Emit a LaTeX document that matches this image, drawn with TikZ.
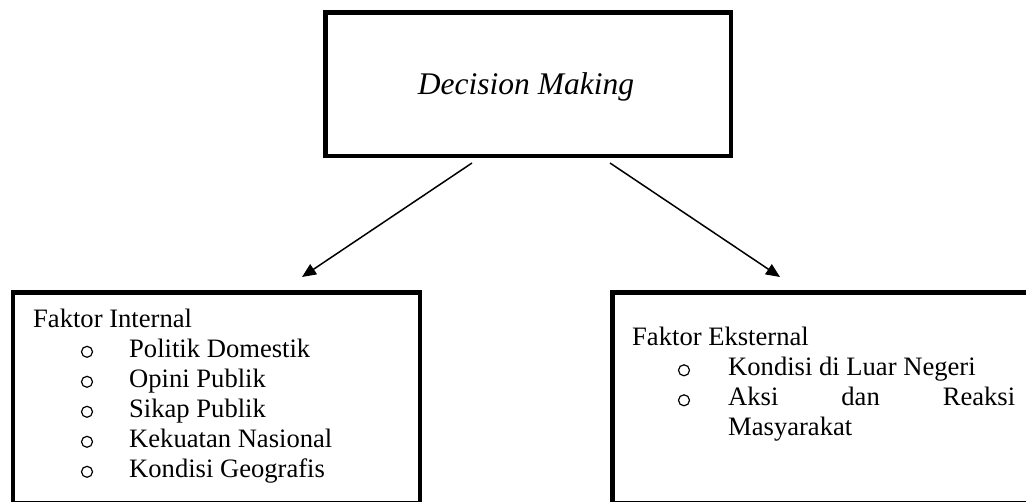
\documentclass[tikz,border=0pt]{standalone}
\usepackage{fontspec}
\setmainfont{Liberation Serif}
\usetikzlibrary{arrows.meta}
\begin{document}
\begin{tikzpicture}[x=1pt,y=-1pt,
  box/.style={draw, line width=4.5pt, inner sep=0pt, anchor=north west},
  lbl/.style={anchor=base west, inner sep=0pt, font=\fontsize{26.6}{30}\selectfont},
  bul/.style={circle, draw, line width=1.2pt, inner sep=0pt, minimum size=11pt},
  arr/.style={line width=1.5pt, -{Triangle[length=14pt,width=12pt]}}]
\useasboundingbox (0,0) rectangle (1026,502);
% top box
\node[box, minimum width=405.5pt, minimum height=143.5pt] (dm) at (323,10.5) {};
\node[anchor=base, inner sep=0pt, font=\fontsize{31.5}{36}\selectfont\itshape] (dmt) at (526,95) {Decision Making};
% bottom boxes
\node[box, minimum width=407pt, minimum height=210.5pt] (int) at (10.5,290.5) {};
\node[box, minimum width=430pt, minimum height=210.5pt] (ext) at (610,290.5) {};
% internal factors
\node[lbl] (i0) at (33,327.5) {Faktor Internal};
\node[bul] (ib1) at (87,351.8) {}; \node[lbl] (i1) at (129,357.5) {Politik Domestik};
\node[bul] (ib2) at (87,381.8) {}; \node[lbl] (i2) at (129,387.5) {Opini Publik};
\node[bul] (ib3) at (87,411.8) {}; \node[lbl] (i3) at (129,417.5) {Sikap Publik};
\node[bul] (ib4) at (87,441.8) {}; \node[lbl] (i4) at (129,447.5) {Kekuatan Nasional};
\node[bul] (ib5) at (87,471.8) {}; \node[lbl] (i5) at (129,477.5) {Kondisi Geografis};
% external factors
\node[lbl] (e0) at (632,346) {Faktor Eksternal};
\node[bul] (eb1) at (684,370.3) {}; \node[lbl] (e1) at (728,376) {Kondisi di Luar Negeri};
\node[bul] (eb2) at (684,400.3) {}; \node[lbl] (e2) at (728,406) {\hbox to 287pt{Aksi\hfill dan\hfill Reaksi}};
\node[lbl] (e3) at (728,436) {Masyarakat};
% arrows
\coordinate (la) at (472,163); \coordinate (lb) at (302,277);
\coordinate (ra) at (610,163); \coordinate (rb) at (780,277);
\draw[arr] (la) -- (lb);
\draw[arr] (ra) -- (rb);
\end{tikzpicture}
\end{document}
